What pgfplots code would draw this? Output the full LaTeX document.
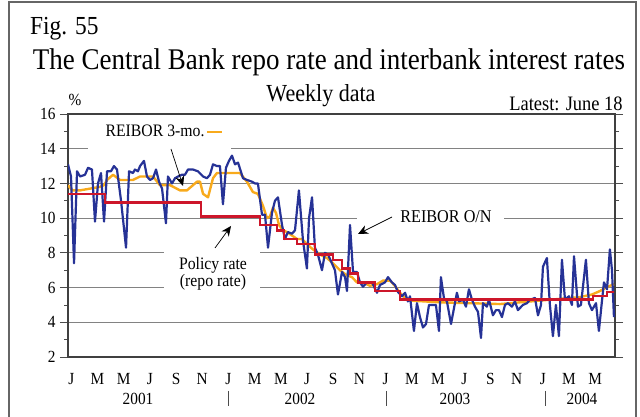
\documentclass[border=0pt]{standalone}
\usepackage{pgfplots}
\pgfplotsset{compat=1.18}
\usepackage{fontspec}
\setmainfont{Liberation Serif}
\usetikzlibrary{arrows.meta}
\definecolor{onblue}{RGB}{38,50,150}
\definecolor{tmorange}{RGB}{248,170,28}
\definecolor{polred}{RGB}{205,22,42}
\definecolor{gridgray}{RGB}{130,130,130}
\newcommand{\sq}[1]{\scalebox{0.9}[1]{#1}}
\begin{document}
\begin{tikzpicture}[x=1pt,y=1pt]
\useasboundingbox (0,0) rectangle (640,417);
\draw[line width=1.3pt, black!60] (9,-10) -- (9,415) -- (636,415) -- (636,-10);
\node[anchor=base west, inner sep=0] at (30,382) {\fontsize{26}{30}\selectfont\sq{Fig. 55}};
\node[anchor=base, inner sep=0] at (329,347) {\fontsize{30}{34}\selectfont\sq{The Central Bank repo rate and interbank interest rates}};
\node[inner sep=0] at (321,321) {\fontsize{24.5}{28}\selectfont\sq{Weekly data}};
\node[inner sep=0] at (566,313) {\fontsize{20.5}{24}\selectfont\sq{Latest: June 18}};
\node[inner sep=0] at (75,317) {\fontsize{17}{20}\selectfont\sq{\%}};
\begin{axis}[at={(68pt,60pt)}, anchor=south west, scale only axis,
  width=547pt, height=243pt,
  xmin=0, xmax=41.76, ymin=2, ymax=16,
  ytick={2,4,...,16}, minor ytick={3,5,...,15},
  yticklabels={\sq{2},\sq{4},\sq{6},\sq{8},\sq{10},\sq{12},\sq{14},\sq{16}},
  xtick={0.25,2.25,4.25,6.25,8.25,10.25,12.25,14.25,16.25,18.25,20.25,22.25,24.25,26.25,28.25,30.25,32.25,34.25,36.25,38.25,40.25},
  xticklabels={\sq{J},\sq{M},\sq{M},\sq{J},\sq{S},\sq{N},\sq{J},\sq{M},\sq{M},\sq{J},\sq{S},\sq{N},\sq{J},\sq{M},\sq{M},\sq{J},\sq{S},\sq{N},\sq{J},\sq{M},\sq{M}},
  xtick style={draw=none},
  ytick style={black!70, line width=0.8pt},
  tick align=outside, major tick length=8pt, minor tick length=4pt,
  ymajorgrids, major grid style={gridgray, line width=1.2pt},
  axis line style={black!75, line width=1.2pt},
  ticklabel style={font=\fontsize{17}{20}\selectfont},
  xticklabel style={yshift=-5pt},
  yticklabel style={xshift=-1pt},
]
\addplot[tmorange, line width=2.4pt, line join=round] coordinates {
(0.00,11.9) (0.31,11.6) (0.92,11.6) (1.68,11.7) (2.44,11.8) (2.75,11.9) (2.98,12.2) (3.44,12.5) (3.97,12.2) (4.96,12.2) (5.50,12.4) (6.49,12.4) (7.02,11.9) (7.79,11.9) (8.55,11.6) (9.08,11.6) (9.85,12.1) (10.08,12.1) (10.31,11.4) (10.69,11.2) (11.07,12.3) (11.37,12.6) (13.13,12.6) (13.66,12.1) (14.12,11.5) (14.50,11.4) (14.89,10.7) (15.19,10.0) (15.42,10.1) (15.65,10.6) (15.88,10.3) (16.11,9.6) (16.41,9.3) (16.72,9.2) (17.10,9.0) (17.48,8.8) (17.86,8.8) (18.24,8.5) (18.70,8.2) (19.24,7.9) (19.77,7.7) (20.23,7.4) (20.76,7.0) (21.30,6.7) (21.68,6.6) (22.06,6.3) (22.52,6.3) (23.05,6.1) (23.59,6.2) (24.05,6.4) (24.58,6.4) (24.96,6.1) (25.34,5.7) (25.73,5.4) (26.11,5.25) (28.40,5.15) (30.69,5.1) (32.98,5.05) (34.50,5.15) (36.03,5.25) (37.56,5.35) (39.08,5.45) (40.00,5.6) (40.61,5.8) (41.07,6.0) (41.68,6.2)
};
\addplot[onblue, line width=2.2pt, line join=round] coordinates {
(0.00,13.1) (0.23,12.4) (0.46,7.4) (0.69,12.7) (0.92,12.4) (1.30,12.5) (1.53,12.9) (1.83,12.8) (2.06,9.8) (2.29,12.0) (2.52,12.6) (2.75,9.8) (2.98,12.7) (3.28,12.7) (3.51,13.0) (3.74,12.8) (4.05,11.0) (4.43,8.3) (4.66,12.7) (4.96,12.6) (5.11,12.8) (5.34,12.7) (5.50,13.0) (5.80,13.3) (6.03,12.4) (6.26,12.2) (6.49,12.3) (6.72,12.8) (6.95,12.1) (7.18,11.7) (7.48,9.7) (7.63,12.4) (7.94,12.0) (8.17,12.3) (8.40,12.4) (8.70,12.5) (8.93,12.5) (9.16,12.8) (9.54,12.8) (9.92,12.7) (10.31,12.4) (10.61,12.3) (10.84,12.5) (11.07,13.1) (11.37,13.0) (11.60,13.0) (11.83,10.8) (12.06,12.9) (12.29,13.3) (12.52,13.6) (12.75,13.1) (12.98,13.2) (13.36,12.3) (13.66,12.2) (14.05,12.1) (14.27,12.0) (14.50,12.0) (14.81,10.2) (15.04,10.2) (15.27,8.3) (15.57,10.3) (15.80,11.0) (16.03,11.2) (16.34,9.6) (16.56,8.8) (16.79,9.2) (17.10,9.1) (17.33,9.3) (17.63,11.6) (17.94,8.7) (18.24,7.1) (18.40,10.0) (18.63,11.2) (18.85,8.3) (19.08,7.9) (19.39,7.0) (19.62,8.0) (19.85,7.9) (20.15,7.4) (20.38,7.0) (20.61,5.6) (20.92,6.9) (21.15,6.6) (21.30,5.8) (21.53,9.6) (21.76,6.9) (22.06,6.9) (22.29,6.3) (22.52,6.05) (22.82,6.3) (23.21,6.3) (23.59,5.7) (23.82,6.15) (24.20,6.3) (24.43,6.6) (24.73,6.3) (24.96,6.15) (25.19,5.75) (25.50,5.5) (25.73,5.7) (25.95,5.2) (26.11,5.5) (26.41,3.5) (26.64,5.1) (26.87,4.3) (27.10,3.7) (27.33,3.9) (27.56,5.0) (27.86,5.0) (28.09,5.0) (28.32,3.5) (28.47,6.6) (28.70,5.4) (28.93,5.2) (29.24,3.9) (29.39,4.5) (29.69,5.7) (29.85,5.2) (30.15,5.3) (30.38,4.9) (30.61,5.9) (30.84,5.3) (31.07,4.9) (31.30,4.6) (31.53,3.1) (31.68,5.1) (31.98,4.9) (32.14,5.3) (32.44,4.4) (32.67,4.7) (32.90,4.7) (33.13,4.3) (33.36,5.0) (33.59,5.1) (33.89,4.9) (34.12,5.2) (34.35,4.7) (34.73,5.0) (35.04,5.1) (35.27,5.3) (35.65,5.4) (35.88,4.4) (36.11,5.0) (36.26,7.2) (36.56,7.7) (36.79,5.0) (37.02,3.2) (37.25,5.0) (37.48,3.2) (37.71,7.6) (37.94,5.3) (38.24,5.5) (38.47,5.0) (38.63,7.8) (38.93,4.9) (39.16,5.0) (39.54,7.6) (39.77,5.1) (40.00,4.7) (40.31,5.1) (40.53,3.5) (40.76,5.2) (40.92,6.3) (41.15,5.9) (41.37,8.2) (41.53,7.0) (41.68,4.3)
};
\addplot[polred, line width=2.5pt, const plot] coordinates {
(0,11.4) (2.82,10.9) (10.15,10.1) (14.66,9.6) (15.95,9.3) (16.49,8.8) (17.48,8.5) (18.85,7.9) (20.23,7.6) (20.92,7.1) (21.53,6.8) (22.14,6.3) (23.44,5.8) (25.34,5.3) (40.08,5.5) (41.15,5.75) (41.72,5.75)
};
\end{axis}
% label boxes
\fill[white] (88,300) rectangle (231,266);
\node[inner sep=0] at (155,286) {\fontsize{17.5}{21}\selectfont\sq{REIBOR 3-mo.}};
\draw[tmorange, line width=2.4pt] (207,285) -- (222,285);
\draw[line width=0.7pt, -{Stealth[length=10pt,width=9pt]}] (171,268) -- (183,231);
\fill[white] (164,168) rectangle (260,117);
\node[inner sep=0, align=center] at (213,143.5) {\fontsize{17.5}{21}\selectfont\sq{Policy rate}\\\fontsize{17.5}{21}\selectfont\sq{(repo rate)}};
\draw[line width=0.7pt, -{Stealth[length=10pt,width=9pt]}] (215,169) -- (231,191);
\fill[white] (357,211) rectangle (504,187);
\node[inner sep=0] at (446,200) {\fontsize{18}{21}\selectfont\sq{REIBOR O/N}};
\draw[line width=0.7pt, -{Stealth[length=10pt,width=9pt]}] (392,200) -- (358,183);
% years
\foreach \xx/\yy in {138/2001, 300/2002, 455/2003, 582/2004}{
  \node[inner sep=0] at (\xx,18) {\fontsize{17}{20}\selectfont\sq{\yy}};
}
\foreach \xx in {228,386,545}{
  \draw[line width=0.6pt, black!70] (\xx,26) -- (\xx,11);
}
\end{tikzpicture}
\end{document}
